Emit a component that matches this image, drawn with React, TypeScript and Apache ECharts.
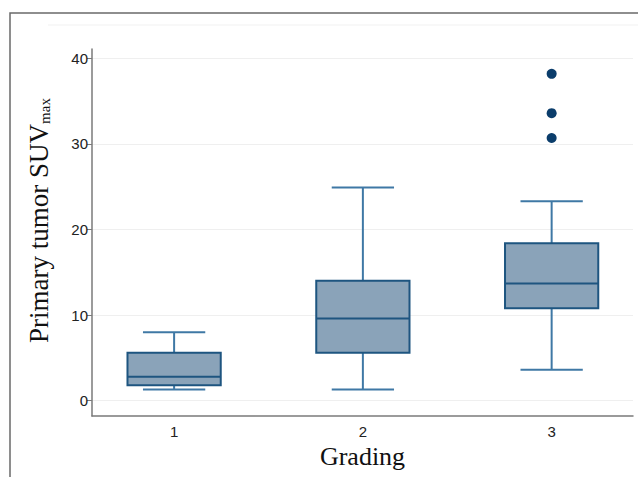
import React, { useEffect, useRef } from "react";
import * as echarts from "echarts";

const categories = [1, 2, 3];
const minV = [1.3, 1.3, 3.6];
const q1V = [1.8, 5.6, 10.8];
const medianV = [2.8, 9.6, 13.7];
const q3V = [5.6, 14.0, 18.4];
const maxV = [8.0, 24.9, 23.3];
const outliers: [number, number][] = [
  [3, 30.7],
  [3, 33.6],
  [3, 38.2],
];
const yTicks = [0, 10, 20, 30, 40];
const xTicks = [1, 2, 3];

export default function App() {
  const ref = useRef<HTMLDivElement>(null);
  useEffect(() => {
    if (!ref.current) return;
    const chart = echarts.init(ref.current, null, { renderer: "svg" });
    const boxData = categories.map((c, i) => [c, minV[i], q1V[i], medianV[i], q3V[i], maxV[i]]);
    const boxHalf = 0.247;
    const capHalf = 0.165;
    const boxStroke = "#1e5580";
    const whiskerStroke = "#3f78a5";
    chart.setOption({
      animation: false,
      backgroundColor: "#ffffff",
      grid: { left: 92, top: 49, right: 5, bottom: 61 },
      graphic: [
        {
          type: "rect",
          shape: { x: 10, y: 13, width: 700, height: 600 },
          style: { fill: "none", stroke: "#6a6a6a", lineWidth: 1.5 },
          silent: true,
        },
        {
          type: "line",
          shape: { x1: 48, y1: 25, x2: 638, y2: 25 },
          style: { stroke: "#f1f1f1", lineWidth: 1 },
          silent: true,
        },
      ],
      xAxis: {
        type: "value",
        min: 0.565,
        max: 3.431,
        name: "Grading",
        nameLocation: "middle",
        nameGap: 27,
        nameTextStyle: { fontFamily: "Liberation Serif", fontSize: 26, color: "#111" },
        axisLine: { show: true, onZero: false, lineStyle: { color: "#7a7a7a", width: 1.5 } },
        axisTick: { show: false, customValues: xTicks },
        axisLabel: {
          customValues: xTicks,
          fontFamily: "Liberation Sans",
          fontSize: 15,
          color: "#222",
          margin: 8,
        },
        splitLine: { show: false },
      },
      yAxis: {
        type: "value",
        min: -1.8,
        max: 41.1,
        name: "{a|Primary tumor SUV}{b|max}",
        nameLocation: "middle",
        nameGap: 40,
        nameRotate: 90,
        nameTextStyle: {
          padding: [0, 0, 0, 24],
          rich: {
            a: { fontFamily: "Liberation Serif", fontSize: 27, color: "#111" },
            b: { fontFamily: "Liberation Serif", fontSize: 15, color: "#111", verticalAlign: "bottom" },
          },
        },
        axisLine: { show: true, onZero: false, lineStyle: { color: "#7a7a7a", width: 1.5 } },
        axisTick: { show: true, length: 5, customValues: yTicks, lineStyle: { color: "#7a7a7a", width: 1 } },
        axisLabel: {
          customValues: yTicks,
          fontFamily: "Liberation Sans",
          fontSize: 15,
          color: "#222",
          margin: 4,
        },
        splitLine: { show: true, lineStyle: { color: "#efefef", width: 1 } },
      },
      series: [
        {
          type: "custom",
          data: boxData,
          encode: { x: 0, y: [1, 2, 3, 4, 5] },
          renderItem: (params: any, api: any) => {
            const x = api.value(0);
            const lo = api.value(1);
            const q1 = api.value(2);
            const med = api.value(3);
            const q3 = api.value(4);
            const hi = api.value(5);
            const pLT = api.coord([x - boxHalf, q3]);
            const pRB = api.coord([x + boxHalf, q1]);
            const pC = api.coord([x, 0]);
            const pCapL = api.coord([x - capHalf, 0]);
            const pCapR = api.coord([x + capHalf, 0]);
            const yHi = api.coord([x, hi])[1];
            const yLo = api.coord([x, lo])[1];
            const yMed = api.coord([x, med])[1];
            const wStyle = { stroke: whiskerStroke, lineWidth: 2 };
            return {
              type: "group",
              children: [
                { type: "line", shape: { x1: pC[0], y1: pLT[1], x2: pC[0], y2: yHi }, style: wStyle },
                { type: "line", shape: { x1: pCapL[0], y1: yHi, x2: pCapR[0], y2: yHi }, style: wStyle },
                { type: "line", shape: { x1: pC[0], y1: pRB[1], x2: pC[0], y2: yLo }, style: wStyle },
                { type: "line", shape: { x1: pCapL[0], y1: yLo, x2: pCapR[0], y2: yLo }, style: wStyle },
                {
                  type: "rect",
                  shape: { x: pLT[0], y: pLT[1], width: pRB[0] - pLT[0], height: pRB[1] - pLT[1] },
                  style: { fill: "#8aa3b9", stroke: boxStroke, lineWidth: 2 },
                },
                {
                  type: "line",
                  shape: { x1: pLT[0], y1: yMed, x2: pRB[0], y2: yMed },
                  style: { stroke: boxStroke, lineWidth: 2 },
                },
              ],
            };
          },
        },
        {
          type: "scatter",
          data: outliers,
          symbol: "circle",
          symbolSize: 10,
          itemStyle: { color: "#0b3d6b", opacity: 1 },
        },
      ],
    });
    return () => chart.dispose();
  }, []);
  return <div ref={ref} style={{ position: "absolute", left: 0, top: 0, width: 638, height: 477 }} />;
}
